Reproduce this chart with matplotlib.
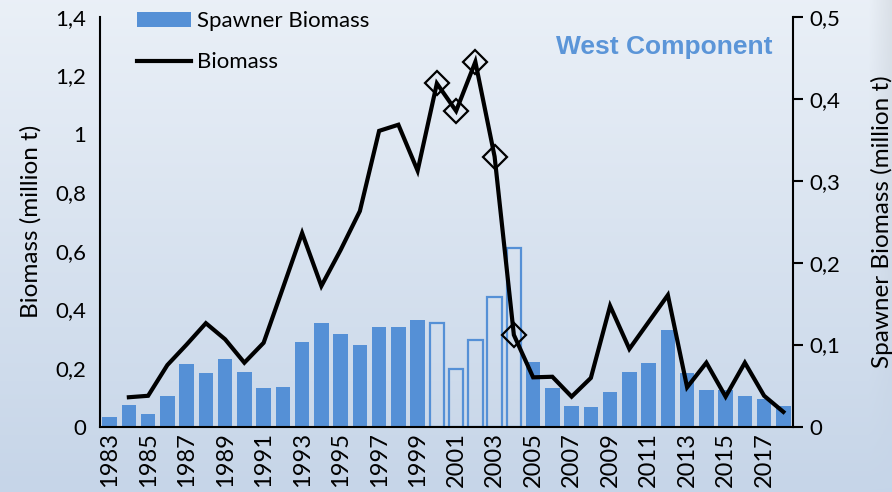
import numpy as np
import matplotlib
matplotlib.use('Agg')
import matplotlib.pyplot as plt
from matplotlib.lines import Line2D
from matplotlib.patches import Patch

# Survey years and stock estimates (million t)
years = list(range(1983, 2019))

spawner = [0.012, 0.026, 0.015, 0.0375, 0.076, 0.065, 0.082, 0.067, 0.047, 0.048,
           0.103, 0.126, 0.113, 0.100, 0.121, 0.121, 0.130, 0.126, 0.0705, 0.106,
           0.158, 0.218, 0.079, 0.047, 0.025, 0.024, 0.042, 0.066, 0.077, 0.118,
           0.065, 0.044, 0.045, 0.037, 0.034, 0.025]

# total biomass, no estimate for the first year
biomass = [np.nan, 0.100, 0.105, 0.210, 0.280, 0.353, 0.298, 0.218, 0.286, 0.473,
           0.661, 0.480, 0.603, 0.736, 1.010, 1.031, 0.874, 1.172, 1.078, 1.246,
           0.922, 0.313, 0.168, 0.170, 0.102, 0.166, 0.412, 0.265, 0.357, 0.449,
           0.134, 0.218, 0.102, 0.218, 0.105, 0.050]

# years with uncertain estimates: open bars and diamond markers
flagged = [2000, 2001, 2002, 2003, 2004]

BLUE = '#5590d6'
FONT = 'Lato'

fig = plt.figure(figsize=(8.92, 4.92), dpi=100)

# soft blue background, lighter at the top
bg = fig.add_axes([0, 0, 1, 1], zorder=-10)
grad = np.linspace(0, 1, 256)[:, None]
top = np.array([0.918, 0.941, 0.969])
bot = np.array([0.776, 0.835, 0.910])
img = top + (bot - top) * grad[..., None]
img = np.repeat(img, 400, axis=1)
# slight shade along the right edge
edge = np.clip((np.linspace(0, 1, 400) - 0.975) / 0.025, 0, 1)
img = img - 0.06 * edge[None, :, None] * (1 - grad[..., None])
bg.imshow(np.clip(img, 0, 1), aspect='auto', extent=[0, 1, 0, 1])
bg.axis('off')

ax = fig.add_axes([0.1121, 0.1331, 0.7769, 0.8329])
ax2 = ax.twinx()
ax.set_zorder(2)
ax2.set_zorder(1)
ax.patch.set_visible(False)
ax2.patch.set_visible(False)

x = np.arange(len(years))

# spawner biomass bars on the right axis
for i, (yr, v) in enumerate(zip(years, spawner)):
    if yr in flagged:
        ax2.bar(i, v, width=0.75, facecolor='none', edgecolor=BLUE, linewidth=1.6)
    else:
        ax2.bar(i, v, width=0.75, color=BLUE, edgecolor='none')

# total biomass line on the left axis
ax.plot(x, biomass, color='black', lw=3, solid_joinstyle='miter', zorder=3)
idx = [years.index(y) for y in flagged]
ax.plot(idx, [biomass[i] for i in idx], ls='none', marker='D', ms=12,
        mfc='none', mec='black', mew=1.6, zorder=4)

ax.set_xlim(-0.5, len(years) - 0.5)
ax.set_ylim(0, 1.4)
ax2.set_ylim(0, 0.5)

ax.set_yticks(np.arange(0, 1.41, 0.2))
ax.set_yticklabels(['0', '0,2', '0,4', '0,6', '0,8', '1', '1,2', '1,4'])
ax2.set_yticks(np.arange(0, 0.51, 0.1))
ax2.set_yticklabels(['0', '0,1', '0,2', '0,3', '0,4', '0,5'])
ax.set_xticks(x[::2])
ax.set_xticklabels([str(y) for y in years[::2]], rotation=90)

for a in (ax, ax2):
    for s in a.spines.values():
        s.set_visible(False)
ax.spines['left'].set_visible(True)
ax.spines['bottom'].set_visible(True)
ax2.spines['right'].set_visible(True)
for s in (ax.spines['left'], ax.spines['bottom'], ax2.spines['right']):
    s.set_linewidth(1.5)
    s.set_color('black')

ax.tick_params(axis='y', length=0, pad=10, labelsize=16)
ax.tick_params(axis='x', length=0, pad=4, labelsize=17)
ax2.tick_params(axis='y', length=7, width=1.5, direction='out', pad=5, labelsize=16)
for lab in ax.get_xticklabels() + ax.get_yticklabels() + ax2.get_yticklabels():
    lab.set_fontfamily(FONT)

ax.set_ylabel('Biomass (million t)', fontsize=17.5, fontfamily=FONT, labelpad=10)
ax2.set_ylabel('Spawner Biomass (million t)', fontsize=17.5, fontfamily=FONT, labelpad=22)

handles = [Patch(facecolor=BLUE, edgecolor='none'),
           Line2D([0], [0], color='black', lw=3)]
leg = ax.legend(handles, ['Spawner Biomass', 'Biomass'], loc='upper left',
                bbox_to_anchor=(0.025, 1.062), frameon=False,
                prop={'family': FONT, 'size': 16}, handlelength=2.4,
                handleheight=0.7, labelspacing=0.95, handletextpad=0.3)

ax.text(0.97, 0.925, 'West Component', transform=ax.transAxes, ha='right',
        va='center', color='#5b95d8', fontsize=19, fontweight='bold',
        fontfamily='Liberation Sans')

fig.savefig('out.png', dpi=100)
